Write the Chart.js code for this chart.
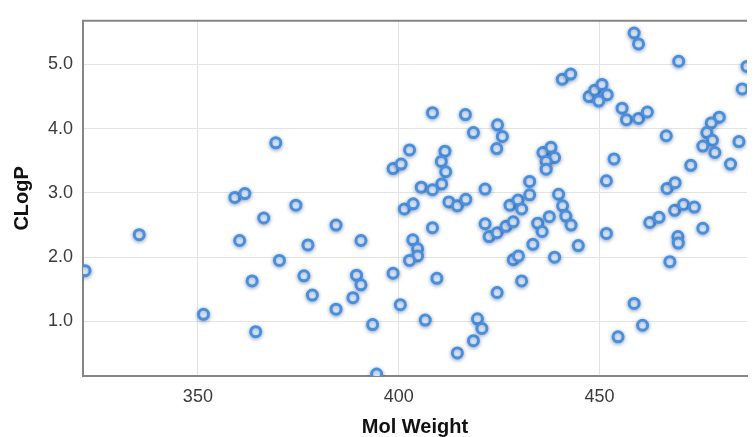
<!DOCTYPE html>
<html>
<head>
<meta charset="utf-8">
<script src="https://cdn.jsdelivr.net/npm/chart.js@4"></script>
<style>
  html, body { margin: 0; padding: 0; background: #fff; overflow: hidden; }
  #wrap { width: 755px; height: 437px; }
</style>
</head>
<body>
<div id="wrap"><canvas id="c" width="755" height="437"></canvas></div>
<script>
const molWeight = [
  321.9, 335.4, 351.4, 359.2, 361.7, 360.4, 363.5, 364.4, 366.4, 369.4, 370.3, 374.4, 376.4, 377.4, 378.5, 384.4, 384.4, 388.6, 389.5, 390.6, 390.6, 393.5, 394.5,
  398.6, 400.6, 402.7, 408.4, 411.5, 410.6, 411.7, 410.7, 405.6, 408.4, 416.6, 418.6, 424.6, 425.8, 424.4, 421.5, 412.5, 414.6, 416.7, 401.4, 403.6, 403.5, 404.7, 404.7, 402.7, 408.4, 398.6, 400.4, 409.5, 406.6,
  421.5, 422.5, 424.5, 426.7, 428.5, 427.7, 429.7, 430.6, 432.6, 432.6, 434.6, 435.7, 437.5, 439.8, 440.8, 441.6, 442.9, 433.4, 435.9, 437.9, 438.8, 436.7, 436.7, 453.6, 451.7, 451.7, 444.7, 438.8,
  414.6, 418.6, 419.6, 420.7, 424.5, 430.6, 428.5, 429.8, 458.6, 460.7, 454.6, 467.5,
  458.6, 459.7, 469.7, 440.7, 442.8, 447.4, 448.8, 450.6, 451.9, 449.8, 455.6, 456.7, 459.7, 461.9, 466.6, 479.8, 477.8, 476.7, 478.1, 475.7, 478.7, 484.7, 482.6, 472.7, 466.8, 468.8, 485.5, 486.7, 462.5, 464.8, 468.7, 470.9, 473.6, 469.5, 469.6, 475.7
];
const clogp = [
  1.79, 2.35, 1.11, 2.93, 2.99, 2.26, 1.63, 0.84, 2.61, 3.78, 1.95, 2.81, 1.71, 2.19, 1.41, 2.50, 1.19, 1.37, 1.72, 1.57, 2.26, 0.95, 0.18,
  3.38, 3.45, 3.67, 4.25, 3.65, 3.49, 3.33, 3.14, 3.09, 3.05, 4.22, 3.94, 4.06, 3.88, 3.69, 3.06, 2.86, 2.80, 2.90, 2.75, 2.83, 2.27, 2.13, 2.02, 1.95, 2.46, 1.75, 1.26, 1.67, 1.02,
  2.52, 2.32, 2.38, 2.48, 2.55, 2.81, 2.89, 2.75, 3.18, 2.97, 2.53, 2.40, 2.63, 2.98, 2.80, 2.64, 2.50, 2.20, 3.63, 3.71, 3.55, 3.49, 3.37, 3.53, 3.19, 2.37, 2.18, 2.00,
  0.51, 0.70, 1.04, 0.89, 1.45, 1.63, 1.96, 2.02, 1.28, 0.94, 0.76, 1.93,
  5.49, 5.32, 5.05, 4.77, 4.85, 4.50, 4.60, 4.69, 4.53, 4.43, 4.32, 4.14, 4.16, 4.26, 3.89, 4.18, 4.09, 3.94, 3.82, 3.73, 3.63, 3.80, 3.45, 3.43, 3.07, 3.16, 4.62, 4.97, 2.54, 2.62, 2.73, 2.82, 2.78, 2.32, 2.22, 2.45
];
const xTicks = [350, 400, 450];
const yTicks = [1, 2, 3, 4, 5];
const xTitle = 'Mol Weight';
const yTitle = 'CLogP';

const points = molWeight.map((x, i) => ({ x: x, y: clogp[i] }));

const frame = {
  id: 'frame',
  beforeDatasetsDraw(chart) {
    const c = chart.ctx;
    c.save();
    c.shadowColor = 'rgba(30,70,130,0.45)';
    c.shadowBlur = 4;
    c.shadowOffsetY = 1;
  },
  afterDatasetsDraw(chart) {
    chart.ctx.restore();
    const c = chart.ctx, a = chart.chartArea;
    c.save();
    c.strokeStyle = '#858585';
    c.lineWidth = 2;
    c.beginPath();
    c.moveTo(a.left - 1, a.top);
    c.lineTo(a.right, a.top);
    c.stroke();
    c.restore();
  }
};

const font = 'Liberation Sans, Arial, Helvetica, sans-serif';

new Chart(document.getElementById('c'), {
  type: 'scatter',
  data: {
    datasets: [{
      data: points,
      pointRadius: 5,
      pointHoverRadius: 5,
      borderWidth: 3,
      pointBorderWidth: 3,
      borderColor: '#4a8fdd',
      backgroundColor: '#f2f8ff',
      clip: 0
    }]
  },
  options: {
    responsive: false,
    animation: false,
    events: [],
    layout: { padding: { top: 13, right: 0, bottom: 0, left: 0 } },
    plugins: { legend: { display: false }, tooltip: { enabled: false } },
    scales: {
      x: {
        type: 'linear',
        min: 321.4,
        max: 486.7,
        afterBuildTicks(scale) { scale.ticks = xTicks.map(v => ({ value: v })); },
        afterFit(scale) { scale.height = 61; },
        grid: { color: '#e3e3e3', lineWidth: 1, drawTicks: false },
        border: { color: '#858585', width: 2 },
        ticks: {
          padding: 10,
          color: '#3a3a3a',
          font: { family: font, size: 18 },
          callback: v => String(v)
        },
        title: {
          display: true,
          text: xTitle,
          color: '#111',
          font: { family: font, size: 20, weight: 'bold', lineHeight: 1.0 },
          padding: { top: 0, bottom: 0 }
        }
      },
      y: {
        type: 'linear',
        min: 0.15,
        max: 5.68,
        afterBuildTicks(scale) { scale.ticks = yTicks.map(v => ({ value: v })); },
        afterFit(scale) { scale.width = 83; },
        grid: { color: '#e3e3e3', lineWidth: 1, drawTicks: false },
        border: { color: '#858585', width: 2 },
        ticks: {
          padding: 10,
          color: '#3a3a3a',
          font: { family: font, size: 18 },
          callback: v => Number(v).toFixed(1)
        },
        title: {
          display: true,
          text: yTitle,
          color: '#111',
          font: { family: font, size: 20, weight: 'bold' },
          padding: { top: 10, bottom: 0 }
        }
      }
    }
  },
  plugins: [frame]
});
</script>
</body>
</html>
